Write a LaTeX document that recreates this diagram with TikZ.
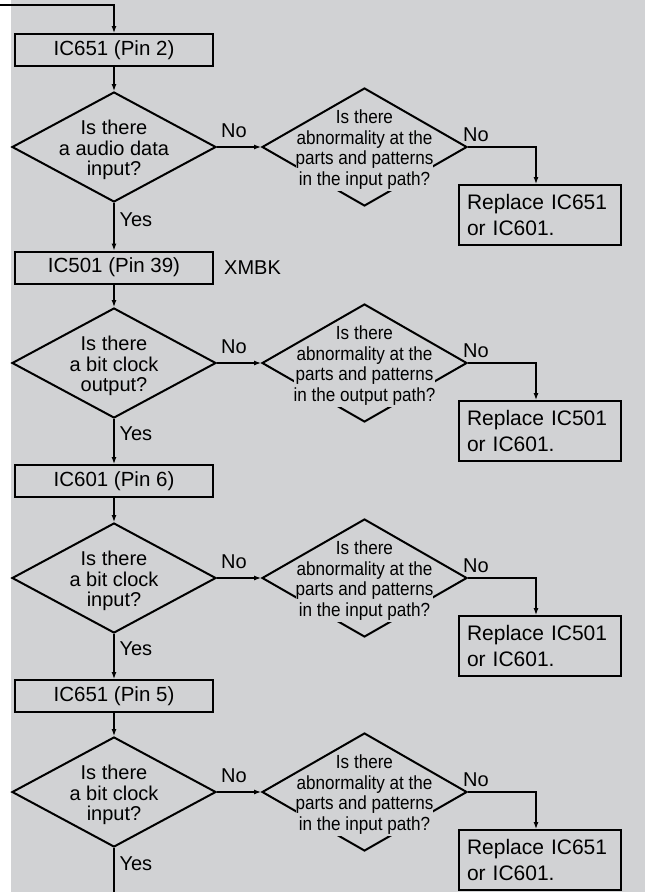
\documentclass[tikz,border=0pt]{standalone}
\usepackage{fontspec}
\setmainfont{Liberation Sans}
\newfontfamily\narrowsans{Liberation Sans}[FakeStretch=0.9]
\usepackage{xcolor}
\usetikzlibrary{shapes, arrows.meta, positioning, calc}
\definecolor{panelgray}{RGB}{209,210,212}

\begin{document}
\begin{tikzpicture}[
        x=1pt, y=-1pt,
        >={Latex[length=7pt,width=5pt]},
        flow/.style={->, line width=1.2pt},
        pinbox/.style={draw, line width=2pt, minimum width=198pt, minimum height=32pt, inner sep=0pt, font=\fontsize{20.5}{24}\selectfont},
        decision/.style={diamond, draw, line width=2pt, minimum width=204pt, minimum height=110pt, inner sep=0pt},
        check/.style={diamond, draw, line width=2pt, minimum width=205pt, minimum height=118pt, inner sep=0pt},
        question/.style={align=center, inner sep=0pt, font=\fontsize{20}{20.5}\selectfont},
        detail/.style={align=center, inner sep=0pt, font=\narrowsans\fontsize{19}{21}\selectfont},
        detailcut/.style={detail, fill=panelgray, inner xsep=0pt, inner ysep=1pt},
        replacebox/.style={draw, line width=2pt, text width=146pt, minimum height=60pt, inner xsep=8pt, align=left, font=\fontsize{21}{26}\selectfont},
        answer/.style={inner sep=0pt, font=\fontsize{20}{24}\selectfont}
    ]

    \useasboundingbox (0,0) rectangle (645,892);
    \fill[panelgray] (11,0) rectangle (645,892);

    \coordinate (entry) at (0,5);
    \coordinate (exit) at (114,892);

    \node[pinbox] (box1) at (114,50) {IC651 (Pin 2)};
    \node[decision] (dia1) at (114,147) {};
    \node[question] (q1) at ([yshift=-3pt]dia1.center) {Is there\\a audio data\\input?};
    \node[check] (rdia1) at (364.5,147) {};
    \node[detail] (r1a) at ([yshift=17.5pt]rdia1.center) {Is there\\abnormality at the};
    \node[detailcut] (r1b) at ([yshift=-23.5pt]rdia1.center) {parts and patterns\\in the input path?};
    \node[replacebox] (rep1) at (540,215) {Replace IC651\\or IC601.};

    \node[pinbox] (box2) at (114,267.5) {IC501 (Pin 39)};
    \node[answer, right=10pt of box2] (xmbk) {XMBK};
    \node[decision] (dia2) at (114,363) {};
    \node[question] (q2) at ([yshift=-3pt]dia2.center) {Is there\\a bit clock\\output?};
    \node[check] (rdia2) at (364.5,363) {};
    \node[detail] (r2a) at ([yshift=17.5pt]rdia2.center) {Is there\\abnormality at the};
    \node[detailcut] (r2b) at ([yshift=-23.5pt]rdia2.center) {parts and patterns\\in the output path?};
    \node[replacebox] (rep2) at (540,431) {Replace IC501\\or IC601.};

    \node[pinbox] (box3) at (114,481) {IC601 (Pin 6)};
    \node[decision] (dia3) at (114,578) {};
    \node[question] (q3) at ([yshift=-3pt]dia3.center) {Is there\\a bit clock\\input?};
    \node[check] (rdia3) at (364.5,578) {};
    \node[detail] (r3a) at ([yshift=17.5pt]rdia3.center) {Is there\\abnormality at the};
    \node[detailcut] (r3b) at ([yshift=-23.5pt]rdia3.center) {parts and patterns\\in the input path?};
    \node[replacebox] (rep3) at (540,646) {Replace IC501\\or IC601.};

    \node[pinbox] (box4) at (114,696) {IC651 (Pin 5)};
    \node[decision] (dia4) at (114,792) {};
    \node[question] (q4) at ([yshift=-3pt]dia4.center) {Is there\\a bit clock\\input?};
    \node[check] (rdia4) at (364.5,792) {};
    \node[detail] (r4a) at ([yshift=17.5pt]rdia4.center) {Is there\\abnormality at the};
    \node[detailcut] (r4b) at ([yshift=-23.5pt]rdia4.center) {parts and patterns\\in the input path?};
    \node[replacebox] (rep4) at (540,860) {Replace IC651\\or IC601.};

    \draw[flow] (entry) -| (box1.north);
    \draw[flow] (box1) -- (dia1);
    \draw[flow] (dia1) -- (box2) node[answer, pos=0.36, right=5pt] (yes1) {Yes};
    \draw[flow] (box2) -- (dia2);
    \draw[flow] (dia2) -- (box3) node[answer, pos=0.33, right=5pt] (yes2) {Yes};
    \draw[flow] (box3) -- (dia3);
    \draw[flow] (dia3) -- (box4) node[answer, pos=0.33, right=5pt] (yes3) {Yes};
    \draw[flow] (box4) -- (dia4);
    \draw[line width=1.2pt] (dia4.south) -- (exit) node[answer, pos=0.35, right=5pt] (yes4) {Yes};

    \draw[flow] (dia1.east) -- (rdia1.west) node[answer, midway, above=9pt, xshift=-5pt] (no1) {No};
    \draw[flow] (dia2.east) -- (rdia2.west) node[answer, midway, above=9pt, xshift=-5pt] (no2) {No};
    \draw[flow] (dia3.east) -- (rdia3.west) node[answer, midway, above=9pt, xshift=-5pt] (no3) {No};
    \draw[flow] (dia4.east) -- (rdia4.west) node[answer, midway, above=9pt, xshift=-5pt] (no4) {No};

    \draw[flow] (rdia1.east) -| ([xshift=-4pt]rep1.north);
    \draw[flow] (rdia2.east) -| ([xshift=-4pt]rep2.north);
    \draw[flow] (rdia3.east) -| ([xshift=-4pt]rep3.north);
    \draw[flow] (rdia4.east) -| ([xshift=-4pt]rep4.north);

    \node[answer, anchor=south west] (no1b) at ([xshift=-5pt,yshift=5pt]rdia1.east) {No};
    \node[answer, anchor=south west] (no2b) at ([xshift=-5pt,yshift=5pt]rdia2.east) {No};
    \node[answer, anchor=south west] (no3b) at ([xshift=-5pt,yshift=5pt]rdia3.east) {No};
    \node[answer, anchor=south west] (no4b) at ([xshift=-5pt,yshift=5pt]rdia4.east) {No};

\end{tikzpicture}
\end{document}
